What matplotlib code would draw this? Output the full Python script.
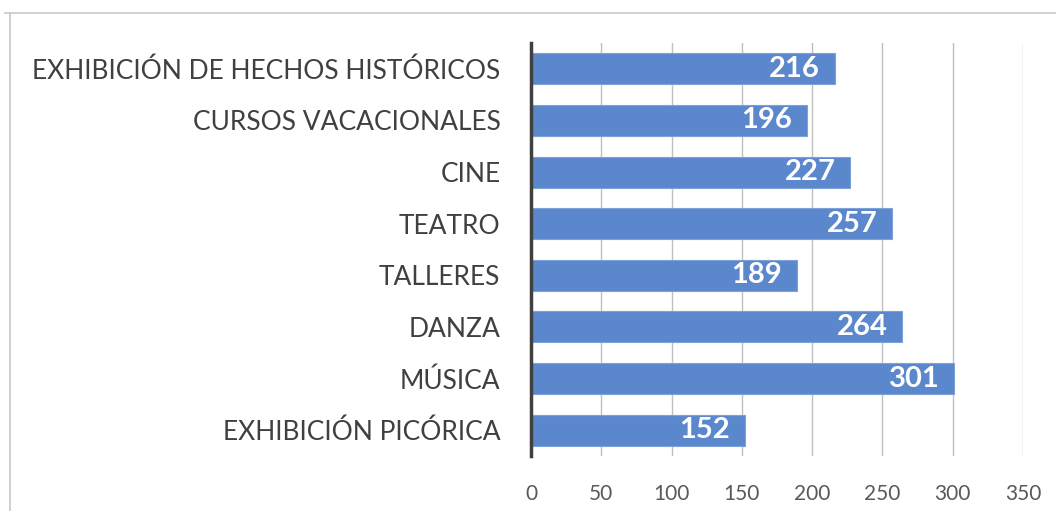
import matplotlib.pyplot as plt
from matplotlib.lines import Line2D

categorias = [
    "EXHIBICIÓN DE HECHOS HISTÓRICOS",
    "CURSOS VACACIONALES",
    "CINE",
    "TEATRO",
    "TALLERES",
    "DANZA",
    "MÚSICA",
    "EXHIBICIÓN PICÓRICA",
]
valores = [216, 196, 227, 257, 189, 264, 301, 152]
ticks_x = [0, 50, 100, 150, 200, 250, 300, 350]

plt.rcParams["font.family"] = ["Lato", "DejaVu Sans"]

fig = plt.figure(figsize=(10.56, 5.11), dpi=100)
ax = fig.add_axes([531 / 1056, 1 - 456 / 511, (1023 - 531) / 1056, (456 - 43) / 511])

y = list(range(len(categorias)))
bars = ax.barh(y, valores, height=0.6, color="#5B87CD", edgecolor="#7FA1D9",
               linewidth=0.8, zorder=3)

for bar, v in zip(bars, valores):
    ax.text(bar.get_width() - 10.5, bar.get_y() + bar.get_height() / 2, str(v),
            ha="right", va="center", color="white", fontsize=21,
            fontweight="bold", zorder=4)

ax.set_xlim(0, 350)
ax.set_ylim(len(categorias) - 0.5, -0.5)
ax.set_xticks(ticks_x)
ax.set_yticks(y)
ax.set_yticklabels(categorias, fontsize=19, color="#404040")
ax.tick_params(axis="x", labelsize=15, colors="#595959", length=0, pad=20)
ax.tick_params(axis="y", length=0, pad=22)
ax.grid(axis="x", color="#BFBFBF", linewidth=1, zorder=0)

for s in ["top", "right", "bottom"]:
    ax.spines[s].set_visible(False)
ax.spines["left"].set_color("#404040")
ax.spines["left"].set_linewidth(2.5)
ax.spines["left"].set_zorder(5)

# marco del gráfico
fig.add_artist(Line2D([5 / 1056, 1], [1 - 13 / 511, 1 - 13 / 511],
                      color="#C8C8C8", linewidth=1.2))
fig.add_artist(Line2D([10 / 1056, 10 / 1056], [0, 1 - 13 / 511],
                      color="#C8C8C8", linewidth=1.2))

plt.savefig("out.png", dpi=100)
plt.close()
